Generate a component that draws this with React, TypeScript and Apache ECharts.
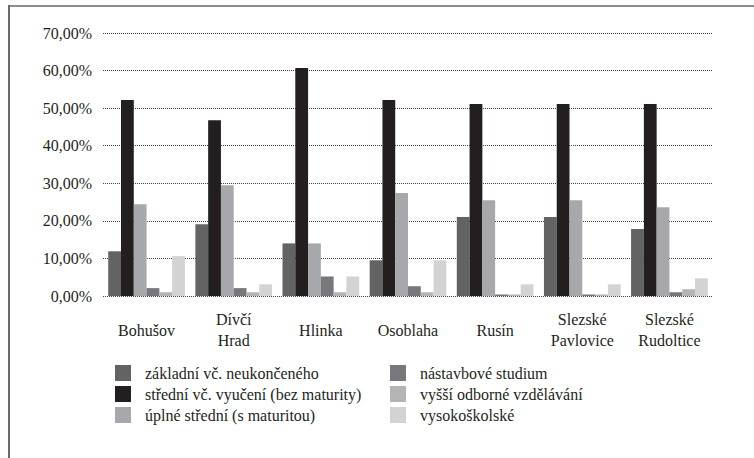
import React, { useEffect, useRef } from "react";
import * as echarts from "echarts";

const categories = ["Bohušov", "Dívčí\nHrad", "Hlinka", "Osoblaha", "Rusín", "Slezské\nPavlovice", "Slezské\nRudoltice"];
const seriesNames = [
  "základní vč. neukončeného",
  "střední vč. vyučení (bez maturity)",
  "úplné střední (s maturitou)",
  "nástavbové studium",
  "vyšší odborné vzdělávání",
  "vysokoškolské",
];
const zakladni = [11.9, 19.1, 14.0, 9.5, 21.0, 21.0, 17.8];
const stredniVyuceni = [52.2, 46.8, 60.7, 52.2, 51.1, 51.1, 51.1];
const uplneStredni = [24.4, 29.5, 14.0, 27.4, 25.5, 25.5, 23.6];
const nastavbove = [2.1, 2.1, 5.2, 2.6, 0.4, 0.4, 1.0];
const vyssiOdborne = [1.0, 1.0, 1.0, 1.0, 0.4, 0.4, 1.8];
const vysokoskolske = [10.6, 3.1, 5.2, 9.5, 3.1, 3.1, 4.7];
const seriesValues = [zakladni, stredniVyuceni, uplneStredni, nastavbove, vyssiOdborne, vysokoskolske];
const colors = ["#636365", "#231f20", "#a7a8ab", "#77787b", "#b3b4b6", "#d2d3d5"];

const FONT = "Liberation Serif";

export default function App() {
  const ref = useRef<HTMLDivElement>(null);
  useEffect(() => {
    if (!ref.current) return;
    const chart = echarts.init(ref.current, undefined, { renderer: "svg" });
    const legendCommon = {
      orient: "vertical" as const,
      itemWidth: 16,
      itemHeight: 16,
      itemGap: 5,
      icon: "rect",
      textStyle: { fontFamily: FONT, fontSize: 16, color: "#231f20", padding: [0, 0, 0, 9] },
    };
    chart.setOption({
      animation: false,
      backgroundColor: "#ffffff",
      textStyle: { fontFamily: FONT },
      graphic: [
        { type: "rect", shape: { x: 8, y: 5, width: 746, height: 2 }, style: { fill: "#8c8c8c" } },
        { type: "rect", shape: { x: 8, y: 5, width: 2, height: 453 }, style: { fill: "#6a6a6a" } },
      ],
      grid: { left: 103, right: 41, top: 33, bottom: 162, containLabel: false },
      legend: [
        { ...legendCommon, left: 110, top: 360, data: seriesNames.slice(0, 3) },
        { ...legendCommon, left: 385, top: 360, data: seriesNames.slice(3, 6) },
      ],
      xAxis: {
        type: "category",
        data: categories,
        axisLine: { show: false },
        axisTick: { show: false },
        axisLabel: {
          interval: 0,
          fontFamily: FONT,
          fontSize: 16,
          color: "#231f20",
          lineHeight: 21,
          verticalAlign: "middle",
          margin: 34,
        },
      },
      yAxis: {
        type: "value",
        min: 0,
        max: 70,
        interval: 10,
        axisLine: { show: false },
        axisTick: { show: false },
        axisLabel: {
          fontFamily: FONT,
          fontSize: 16,
          color: "#231f20",
          margin: 11,
          formatter: (v: number) => v.toFixed(2).replace(".", ",") + "%",
        },
        splitLine: { lineStyle: { type: [1, 1], color: "#444444", width: 1 } },
      },
      series: seriesNames.map((name, i) => ({
        name,
        type: "bar",
        data: seriesValues[i],
        barGap: "0%",
        barCategoryGap: "12%",
        itemStyle: { color: colors[i] },
      })),
    });
    return () => chart.dispose();
  }, []);
  return <div ref={ref} style={{ position: "fixed", left: 0, top: 0, width: 754, height: 458 }} />;
}
